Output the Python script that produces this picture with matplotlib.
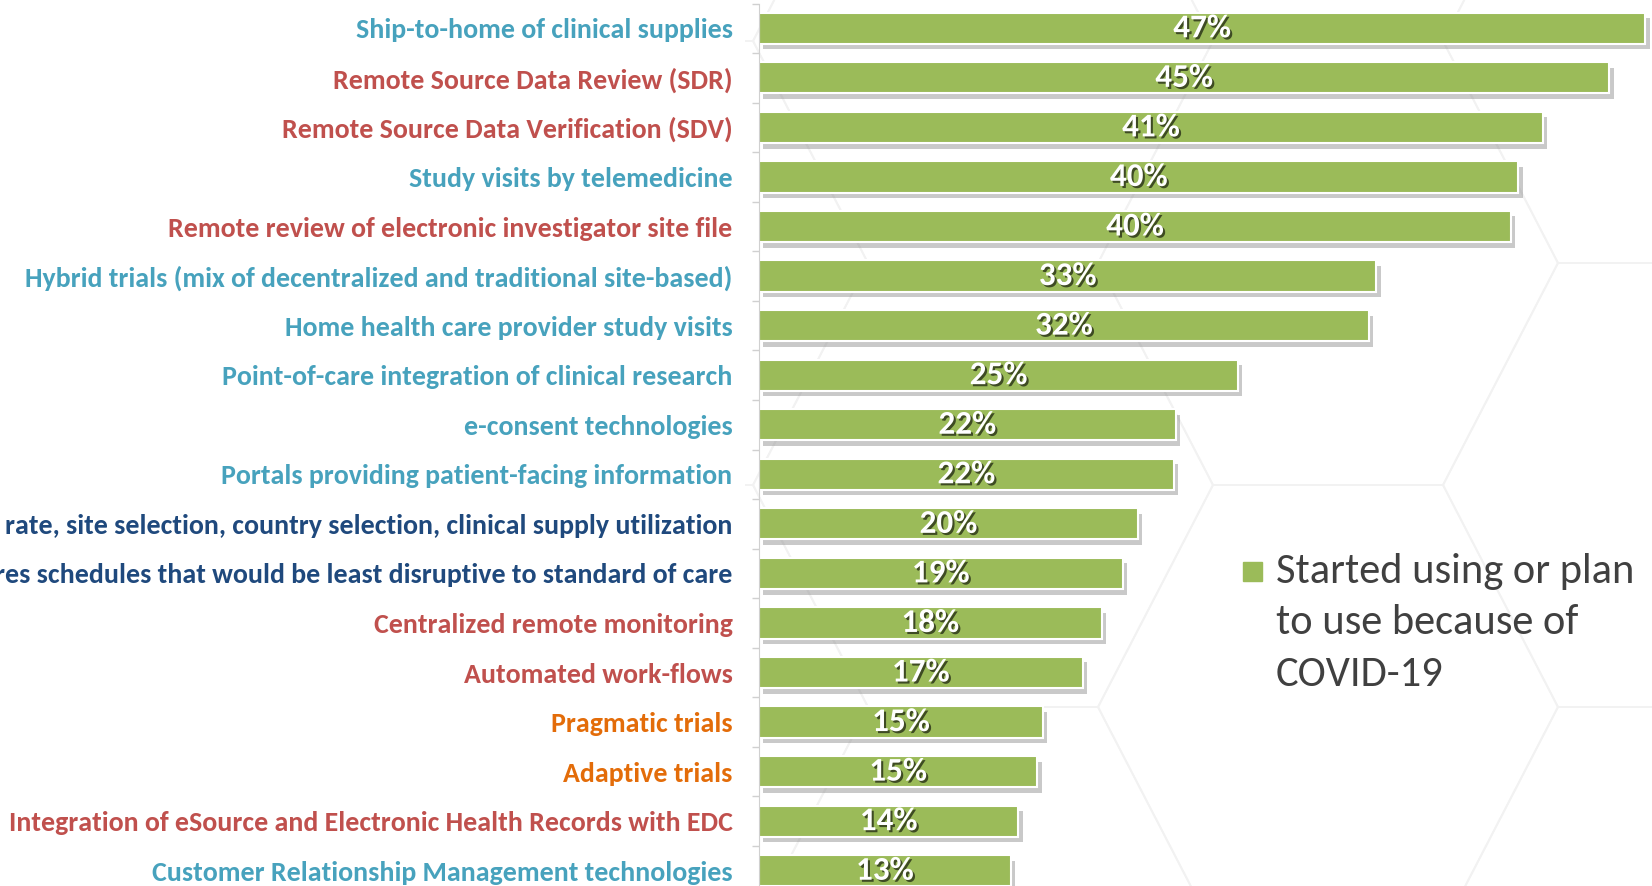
import numpy as np
import matplotlib
matplotlib.use('Agg')
import matplotlib.pyplot as plt
from matplotlib import patheffects as pe
from matplotlib import font_manager as fm
from matplotlib.collections import LineCollection
from matplotlib.patches import Rectangle
from matplotlib.transforms import ScaledTranslation

# data (share of respondents, %)
categories = [
    'Ship-to-home of clinical supplies',
    'Remote Source Data Review (SDR)',
    'Remote Source Data Verification (SDV)',
    'Study visits by telemedicine',
    'Remote review of electronic investigator site file',
    'Hybrid trials (mix of decentralized and traditional site-based)',
    'Home health care provider study visits',
    'Point-of-care integration of clinical research',
    'e-consent technologies',
    'Portals providing patient-facing information',
    'rate, site selection, country selection, clinical supply utilization',
    'res schedules that would be least disruptive to standard of care',
    'Centralized remote monitoring',
    'Automated work-flows',
    'Pragmatic trials',
    'Adaptive trials',
    'Integration of eSource and Electronic Health Records with EDC',
    'Customer Relationship Management technologies',
]
values = [46.8, 44.9, 41.4, 40.1, 39.7, 32.6, 32.2, 25.3, 22.0, 21.9,
          20.0, 19.2, 18.1, 17.1, 15.0, 14.7, 13.7, 13.3]
groups = ['teal', 'red', 'red', 'teal', 'red', 'teal', 'teal', 'teal', 'teal', 'teal',
          'navy', 'navy', 'red', 'red', 'orange', 'orange', 'red', 'teal']
series_name = 'Started using or plan\nto use because of\nCOVID-19'

group_colors = {'teal': '#47A2BD', 'red': '#C0504D', 'navy': '#1F497D', 'orange': '#E36C09'}
bar_color = '#9BBB59'


def pick_font(names):
    for name in names:
        try:
            fm.findfont(name, fallback_to_default=False)
            return name
        except ValueError:
            continue
    return 'DejaVu Sans'


label_font = pick_font(['Carlito', 'Lato', 'Open Sans'])
value_font = pick_font(['Carlito', 'Lato', 'Open Sans'])
regular = pick_font(['Carlito', 'Lato', 'Open Sans', 'Noto Sans'])

W, H = 1652, 886
fig = plt.figure(figsize=(W / 100, H / 100), dpi=100)
renderer = fig.canvas.get_renderer()


def fit_size(text, target_px, **kw):
    t = fig.text(0, 0, text, fontsize=20, **kw)
    w = t.get_window_extent(renderer).width
    t.remove()
    return 20 * target_px / w


# faint hexagon pattern in the background (right part of the slide)
s, h = 230, 222
segs = []
for i in range(-4, 4):
    for j in range(-2, 4):
        cx = 1328 + 1.5 * s * i
        cy = 263 + 2 * h * j + h * (i % 2)
        pts = [(cx + s, cy), (cx + s / 2, cy + h), (cx - s / 2, cy + h),
               (cx - s, cy), (cx - s / 2, cy - h), (cx + s / 2, cy - h), (cx + s, cy)]
        pts = [(x / W, 1 - y / H) for x, y in pts]
        segs += [[pts[k], pts[k + 1]] for k in range(6)]
hexes = LineCollection(segs, colors='#f2f2f2', linewidths=1.3, transform=fig.transFigure, zorder=-1)
clip = Rectangle((745 / W, 0), 1, 1, transform=fig.transFigure)
hexes.set_clip_path(clip)
fig.add_artist(hexes)

ax = fig.add_axes([759 / W, 1 - 895.5 / H, (W - 759) / W, 892 / H])
ax.patch.set_alpha(0)

y = np.arange(len(categories))
ax.barh(y, values, height=0.63, color=bar_color, edgecolor='white', linewidth=1.5,
        path_effects=[pe.SimplePatchShadow(offset=(3, -4), shadow_rgbFace='#7a7a7a', alpha=0.4),
                      pe.Normal()])

val_size = fit_size('47%', 58, fontweight='bold', family=value_font)
for yi, v in zip(y, values):
    ax.text(v / 2, yi, f'{round(v)}%', ha='center', va='center', color='white',
            fontsize=val_size, fontweight='bold', family=value_font,
            path_effects=[pe.withSimplePatchShadow(offset=(1.5, -1.5), shadow_rgbFace='black', alpha=0.6)])

ax.set_xlim(0, (W - 759) / 18.94)
ax.set_ylim(len(categories) - 0.5, -0.5)

lab_size = fit_size(categories[5], 707, fontweight='bold', family=label_font)
ax.set_yticks(y)
ax.set_yticklabels(categories, fontsize=lab_size, fontweight='bold', family=label_font)
shift = ScaledTranslation(0, 2.5 / 100, fig.dpi_scale_trans)
for lab, g in zip(ax.get_yticklabels(), groups):
    lab.set_color(group_colors[g])
    lab.set_transform(lab.get_transform() + shift)
ax.set_yticks(np.arange(len(categories) + 1) - 0.5, minor=True)
ax.tick_params(axis='y', which='major', length=0, pad=19)
ax.tick_params(axis='y', which='minor', length=5, width=1, color='#d0d0d0')
ax.xaxis.set_visible(False)
for side in ['top', 'right', 'bottom']:
    ax.spines[side].set_visible(False)
ax.spines['left'].set_color('#d0d0d0')

# legend drawn by hand at the right
leg_size = fit_size('Started using or plan', 359, family=regular)
t1 = fig.text(0, 0, 'Ag', fontsize=leg_size, family=regular, linespacing=1.0)
t2 = fig.text(0, 0, 'Ag\nAg', fontsize=leg_size, family=regular, linespacing=1.0)
pitch = t2.get_window_extent(renderer).height - t1.get_window_extent(renderer).height
t1.remove()
t2.remove()
fig.text(1276 / W, 1 - 623 / H, series_name, ha='left', va='center', fontsize=leg_size,
         family=regular, color='#404040', linespacing=54.5 / pitch)
fig.add_artist(Rectangle((1243 / W, 1 - 581 / H), 19 / W, 19 / H, transform=fig.transFigure,
                         color=bar_color))

fig.savefig('out.png', dpi=100)
